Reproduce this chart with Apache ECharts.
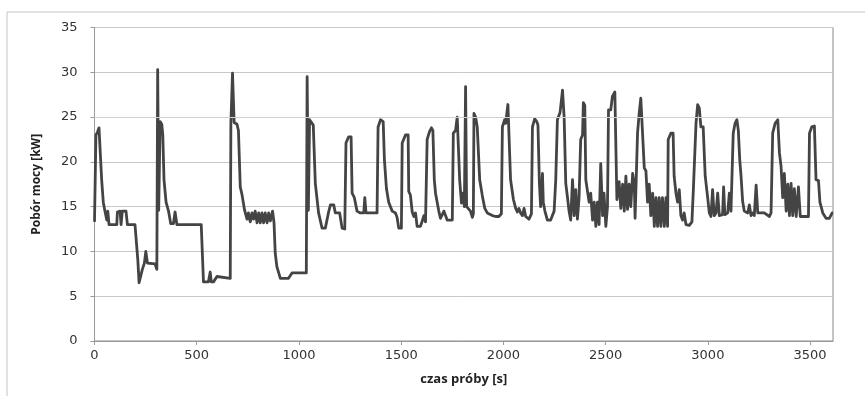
<!DOCTYPE html>
<html>
<head>
<meta charset="utf-8">
<script src="https://cdn.jsdelivr.net/npm/echarts@6/dist/echarts.min.js"></script>
<style>
  html, body { margin: 0; padding: 0; background: #fff; }
  #chart { width: 865px; height: 396px; }
</style>
</head>
<body>
<div id="chart"></div>
<script>
// time of sample [s] and power draw [kW]
const times = [
  0, 7, 14, 22, 30, 35, 43, 51, 60, 65, 71, 109, 112, 125, 130, 136, 154, 161, 198, 207,
  212, 218, 226, 234, 244, 251, 259, 296, 305, 309, 314, 321, 329, 334, 340, 350, 362, 373, 386, 394,
  403, 522, 533, 557, 566, 571, 582, 599, 606, 664, 667, 675, 683, 697, 704, 713, 721, 734, 746, 753,
  762, 770, 778, 786, 795, 803, 811, 819, 827, 835, 844, 852, 860, 871, 878, 884, 892, 909, 949, 966,
  1036, 1040, 1046, 1052, 1070, 1080, 1096, 1113, 1129, 1145, 1154, 1170, 1178, 1199, 1211, 1224, 1230, 1243, 1255, 1260,
  1271, 1284, 1300, 1317, 1322, 1328, 1382, 1387, 1399, 1412, 1418, 1428, 1439, 1456, 1472, 1480, 1488, 1501, 1505, 1521,
  1534, 1537, 1545, 1554, 1562, 1570, 1578, 1594, 1603, 1611, 1619, 1624, 1627, 1639, 1648, 1655, 1662, 1668, 1676, 1684,
  1692, 1701, 1709, 1717, 1725, 1750, 1755, 1766, 1774, 1779, 1786, 1795, 1802, 1809, 1815, 1820, 1828, 1839, 1848, 1853,
  1856, 1864, 1872, 1884, 1897, 1909, 1921, 1946, 1962, 1978, 1990, 1995, 2006, 2011, 2022, 2027, 2035, 2049, 2060, 2068,
  2076, 2084, 2093, 2101, 2109, 2125, 2137, 2142, 2153, 2163, 2169, 2176, 2182, 2191, 2195, 2203, 2215, 2231, 2248, 2256,
  2264, 2277, 2289, 2297, 2305, 2313, 2321, 2329, 2338, 2346, 2354, 2362, 2370, 2378, 2387, 2391, 2398, 2403, 2411, 2419,
  2427, 2436, 2444, 2452, 2460, 2468, 2476, 2485, 2492, 2501, 2509, 2514, 2525, 2533, 2545, 2555, 2566, 2574, 2583, 2591,
  2599, 2607, 2615, 2623, 2632, 2640, 2644, 2656, 2664, 2672, 2681, 2689, 2697, 2705, 2713, 2721, 2730, 2738, 2746, 2754,
  2762, 2770, 2778, 2787, 2795, 2803, 2806, 2819, 2830, 2835, 2844, 2852, 2860, 2868, 2876, 2884, 2893, 2909, 2922, 2929,
  2942, 2950, 2958, 2966, 2977, 2987, 2999, 3007, 3015, 3023, 3031, 3040, 3048, 3056, 3072, 3077, 3083, 3097, 3105, 3113,
  3124, 3133, 3142, 3149, 3156, 3162, 3170, 3178, 3195, 3203, 3211, 3219, 3227, 3236, 3244, 3276, 3301, 3309, 3317, 3329,
  3342, 3350, 3358, 3366, 3374, 3383, 3391, 3399, 3407, 3415, 3423, 3432, 3443, 3452, 3492, 3497, 3508, 3521, 3529, 3541,
  3548, 3562, 3578, 3594, 3608, 3612
]
const power = [
  13.3, 23.0, 23.3, 23.8, 23.7, 18.0, 15.5, 14.5, 13.5, 14.5, 13.0, 13.0, 14.4, 14.5, 13.0, 14.5, 14.5, 13.0, 13.0, 12.8,
  9.0, 6.5, 6.4, 8.0, 8.7, 10.0, 8.7, 8.6, 8.0, 30.3, 14.6, 24.5, 24.2, 23.0, 18.0, 15.5, 14.5, 13.1, 13.1, 14.4,
  13.0, 13.0, 6.6, 6.6, 7.7, 6.6, 6.6, 7.2, 7.0, 7.0, 24.3, 29.9, 24.4, 24.2, 23.5, 17.2, 16.4, 14.6, 13.6, 14.3,
  13.3, 14.3, 13.6, 14.5, 13.2, 14.3, 13.2, 14.3, 13.2, 14.3, 13.2, 14.3, 13.4, 14.5, 13.2, 9.8, 8.3, 7.0, 7.0, 7.6,
  7.6, 29.5, 14.6, 24.7, 24.1, 17.6, 14.3, 12.6, 12.6, 14.4, 15.2, 15.2, 14.3, 14.3, 12.6, 12.5, 22.1, 22.8, 22.8, 16.5,
  16.0, 14.5, 14.3, 14.3, 16.0, 14.3, 14.3, 23.9, 24.7, 24.5, 20.2, 17.0, 15.5, 14.5, 14.3, 13.8, 12.6, 12.6, 22.1, 23.0,
  23.0, 16.7, 16.3, 14.4, 13.9, 14.3, 12.8, 12.8, 13.4, 14.0, 13.3, 13.5, 22.5, 23.4, 23.8, 23.5, 18.0, 16.5, 15.5, 14.5,
  13.7, 14.1, 14.5, 14.5, 13.5, 13.5, 23.2, 23.5, 25.0, 24.8, 18.0, 15.4, 16.5, 15.0, 28.4, 15.0, 14.8, 14.5, 13.8, 14.2,
  25.4, 25.0, 23.9, 18.0, 16.2, 14.8, 14.3, 14.0, 13.9, 13.9, 14.2, 23.9, 24.7, 24.3, 26.4, 26.3, 18.0, 15.8, 14.8, 14.4,
  14.8, 14.3, 14.0, 14.8, 13.9, 13.6, 14.2, 23.9, 24.8, 24.5, 24.1, 17.6, 15.0, 18.7, 15.5, 14.5, 13.5, 13.5, 14.5, 18.0,
  24.7, 25.5, 28.0, 25.0, 17.6, 16.1, 14.5, 13.5, 18.0, 14.0, 16.9, 13.6, 16.0, 22.5, 23.0, 26.6, 26.3, 18.0, 18.0, 15.5,
  16.5, 13.5, 15.5, 12.8, 15.5, 13.0, 19.8, 14.0, 16.5, 12.8, 15.0, 25.8, 25.8, 27.3, 27.8, 15.8, 17.8, 14.8, 17.5, 14.5,
  18.4, 14.7, 17.5, 15.0, 18.7, 17.5, 13.7, 23.2, 25.4, 27.1, 27.0, 19.3, 19.0, 15.5, 17.5, 14.0, 16.5, 12.8, 16.0, 12.8,
  16.0, 12.8, 16.0, 12.8, 16.0, 12.8, 22.5, 23.2, 23.2, 18.4, 16.5, 15.5, 16.9, 14.0, 13.5, 14.3, 13.0, 12.9, 13.3, 16.9,
  24.3, 26.4, 26.0, 23.9, 23.9, 18.4, 16.0, 14.3, 13.9, 16.9, 14.0, 14.3, 16.5, 14.0, 14.1, 17.2, 14.1, 14.3, 16.5, 14.5,
  23.2, 24.3, 24.7, 23.5, 20.2, 18.5, 15.6, 14.5, 14.3, 15.2, 14.0, 14.3, 14.0, 17.4, 14.3, 14.3, 13.9, 14.3, 23.2, 24.3,
  24.7, 21.0, 19.5, 16.0, 18.7, 14.5, 17.5, 14.0, 17.6, 14.0, 17.0, 13.9, 17.2, 13.9, 13.9, 23.2, 23.9, 24.0, 18.0, 17.9,
  15.5, 14.3, 13.7, 13.7, 14.3, 14.3
]
const limitLine = 25

const chart = echarts.init(document.getElementById("chart"))

const labelFont = "DejaVu Sans"
const titleFont = "Open Sans"

const option = {
  backgroundColor: "#ffffff",
  animation: false,
  graphic: [
    {
      type: "rect",
      shape: { x: 7, y: 12, width: 900, height: 420 },
      style: { fill: "none", stroke: "#c4c4c4", lineWidth: 1 },
      z: -1,
    },
  ],
  grid: {
    left: 94.5,
    right: 32,
    top: 27.5,
    bottom: 55,
    show: true,
    borderColor: "#8a8a8a",
    borderWidth: 1,
  },
  xAxis: {
    type: "value",
    min: 0,
    max: 3612,
    interval: 500,
    name: "czas próby [s]",
    nameLocation: "middle",
    nameGap: 32,
    nameTextStyle: {
      fontFamily: titleFont,
      fontWeight: "bold",
      fontSize: 13,
      color: "#222",
    },
    axisLine: { show: true, lineStyle: { color: "#9a9a9a" } },
    axisTick: { show: true, length: 4, lineStyle: { color: "#9a9a9a" } },
    axisLabel: {
      fontFamily: labelFont,
      fontSize: 13,
      color: "#333",
      margin: 8,
      showMaxLabel: false,
      formatter: (v) => String(v),
    },
    splitLine: { show: false },
  },
  yAxis: {
    type: "value",
    min: 0,
    max: 35,
    interval: 5,
    name: "Pobór mocy [kW]",
    nameLocation: "middle",
    nameGap: 52,
    nameTextStyle: {
      fontFamily: titleFont,
      fontWeight: "bold",
      fontSize: 12,
      color: "#222",
    },
    axisLine: { show: true, lineStyle: { color: "#9a9a9a" } },
    axisTick: { show: true, length: 4, lineStyle: { color: "#9a9a9a" } },
    axisLabel: {
      fontFamily: labelFont,
      fontSize: 13,
      color: "#333",
      margin: 17,
    },
    splitLine: { show: true, lineStyle: { color: "#c8c8c8", width: 1 } },
  },
  series: [
    {
      type: "line",
      data: times.map((t, i) => [t, power[i]]),
      showSymbol: false,
      lineStyle: { color: "#444444", width: 2.8, join: "round" },
      itemStyle: { color: "#444444" },
      markLine: {
        silent: true,
        symbol: "none",
        label: { show: false },
        lineStyle: { color: "#f2c4b2", width: 1, type: "solid" },
        data: [{ yAxis: limitLine }],
      },
      z: 3,
    },
  ],
}

chart.setOption(option)
</script>
</body>
</html>
